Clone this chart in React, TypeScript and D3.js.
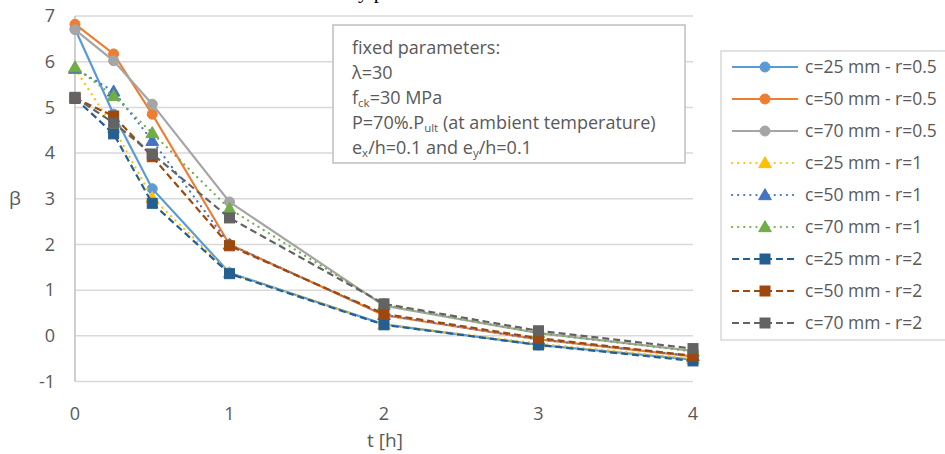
import React from 'react';
import * as d3 from 'd3';

const times = [0, 0.25, 0.5, 1, 2, 3, 4];

const c25r05 = [6.72, 4.85, 3.22, 1.38, 0.25, -0.2, -0.52];
const c50r05 = [6.82, 6.17, 4.85, 2.0, 0.45, -0.08, -0.45];
const c70r05 = [6.7, 6.02, 5.07, 2.93, 0.66, 0.06, -0.33];
const c25r1 = [5.85, 4.55, 3.02, 1.38, 0.25, -0.17, -0.5];
const c50r1 = [5.85, 5.35, 4.27, 2.0, 0.46, -0.08, -0.44];
const c70r1 = [5.88, 5.25, 4.44, 2.78, 0.68, 0.06, -0.34];
const c25r2 = [5.2, 4.42, 2.9, 1.36, 0.24, -0.2, -0.55];
const c50r2 = [5.2, 4.81, 3.92, 1.97, 0.48, -0.05, -0.44];
const c70r2 = [5.22, 4.66, 3.98, 2.58, 0.7, 0.11, -0.28];

const seriesNames = [
  'c=25 mm - r=0.5', 'c=50 mm - r=0.5', 'c=70 mm - r=0.5',
  'c=25 mm - r=1', 'c=50 mm - r=1', 'c=70 mm - r=1',
  'c=25 mm - r=2', 'c=50 mm - r=2', 'c=70 mm - r=2',
];
const seriesValues = [c25r05, c50r05, c70r05, c25r1, c50r1, c70r1, c25r2, c50r2, c70r2];
const seriesColors = ['#5B9BD5', '#ED7D31', '#A5A5A5', '#FFC000', '#4472C4', '#70AD47', '#255E91', '#9E480E', '#636363'];

const xTicks = [0, 1, 2, 3, 4];
const yTicks = [-1, 0, 1, 2, 3, 4, 5, 6, 7];

const font = '"Open Sans", Lato, sans-serif';
const textColor = '#595959';

// 0 = solid/circle, 1 = dotted/triangle, 2 = dashed/square
const styleOf = (i: number) => Math.floor(i / 3);

const dashFor = (s: number) => (s === 0 ? undefined : s === 1 ? '0.1 6' : '7 4');
const capFor = (s: number) => (s === 1 ? 'round' : 'butt');

const Marker = ({ x, y, s, color }: { x: number; y: number; s: number; color: string }) => {
  if (s === 0) return <circle cx={x} cy={y} r={5} fill={color} stroke={color} strokeWidth={1} />;
  if (s === 1) {
    const p = d3.symbol().type(d3.symbolTriangle).size(70)();
    return <path d={p || ''} transform={`translate(${x},${y + 1})`} fill={color} stroke={color} strokeWidth={1} />;
  }
  return <rect x={x - 5} y={y - 5} width={10} height={10} fill={color} stroke={color} strokeWidth={1} />;
};

export default function App() {
  const width = 945;
  const height = 454;

  const x = d3.scaleLinear().domain([0, 4]).range([75, 693]);
  const y = d3.scaleLinear().domain([-1, 7]).range([381.5, 16]);

  const line = d3.line<number>()
    .x((_, i) => x(times[i]))
    .y(d => y(d));

  return (
    <div style={{ position: 'absolute', left: 0, top: 0 }}>
      <svg width={width} height={height} style={{ display: 'block', background: '#fff' }}>
        {/* title above the chart, cut off by the top edge */}
        <text x={358} y={-2} fontFamily="'Liberation Serif', serif" fontSize={21} fill="#000">y p</text>

        {/* gridlines */}
        {yTicks.map(t => (
          <line key={t} x1={x(0)} x2={x(4)} y1={y(t)} y2={y(t)} stroke="#d9d9d9" strokeWidth={1.5} />
        ))}
        <line x1={x(0)} x2={x(0)} y1={y(7)} y2={y(-1)} stroke="#bfbfbf" strokeWidth={1.5} />

        {/* y tick labels */}
        {yTicks.map(t => (
          <text key={t} x={55} y={y(t)} dy="0.35em" textAnchor="end" fontFamily={font} fontSize={18} fill={textColor}>{t}</text>
        ))}
        {/* x tick labels */}
        {xTicks.map(t => (
          <text key={t} x={x(t)} y={420} textAnchor="middle" fontFamily={font} fontSize={18} fill={textColor}>{t}</text>
        ))}

        <text x={15} y={205} textAnchor="middle" fontFamily={font} fontSize={19} fill={textColor}>β</text>
        <text x={385} y={447} textAnchor="middle" fontFamily={font} fontSize={19} fill={textColor}>t [h]</text>

        {/* series */}
        {seriesValues.map((vals, i) => {
          const s = styleOf(i);
          return (
            <g key={i}>
              <path d={line(vals) || ''} fill="none" stroke={seriesColors[i]} strokeWidth={2.2}
                strokeDasharray={dashFor(s)} strokeLinecap={capFor(s) as any} />
              {vals.map((v, j) => (
                <Marker key={j} x={x(times[j])} y={y(v)} s={s} color={seriesColors[i]} />
              ))}
            </g>
          );
        })}

        {/* annotation box */}
        <rect x={333} y={25} width={352} height={138} fill="#fff" stroke="#bfbfbf" strokeWidth={1.5} />
        <g fontFamily={font} fontSize={18} fill={textColor}>
          <text x={352} y={54}>fixed parameters:</text>
          <text x={352} y={79}>λ=30</text>
          <text x={352} y={104}>f<tspan fontSize={11.5} dy={3}>ck</tspan><tspan dy={-3}>=30 MPa</tspan></text>
          <text x={352} y={129}>P=70%.P<tspan fontSize={11.5} dy={3}>ult</tspan><tspan dy={-3}> (at ambient temperature)</tspan></text>
          <text x={352} y={154}>e<tspan fontSize={11.5} dy={3}>x</tspan><tspan dy={-3}>/h=0.1 and e</tspan><tspan fontSize={11.5} dy={3}>y</tspan><tspan dy={-3}>/h=0.1</tspan></text>
        </g>

        {/* legend */}
        <rect x={721} y={51} width={240} height={289} fill="#fff" stroke="#d9d9d9" strokeWidth={1.5} />
        {seriesNames.map((name, i) => {
          const s = styleOf(i);
          const ly = 67 + i * 32;
          return (
            <g key={name}>
              <line x1={732} x2={798} y1={ly} y2={ly} stroke={seriesColors[i]} strokeWidth={2.2}
                strokeDasharray={dashFor(s)} strokeLinecap={capFor(s) as any} />
              <Marker x={765} y={ly} s={s} color={seriesColors[i]} />
              <text x={805} y={ly} dy="0.35em" fontFamily={font} fontSize={17.5} fill={textColor}>{name}</text>
            </g>
          );
        })}
      </svg>
    </div>
  );
}
